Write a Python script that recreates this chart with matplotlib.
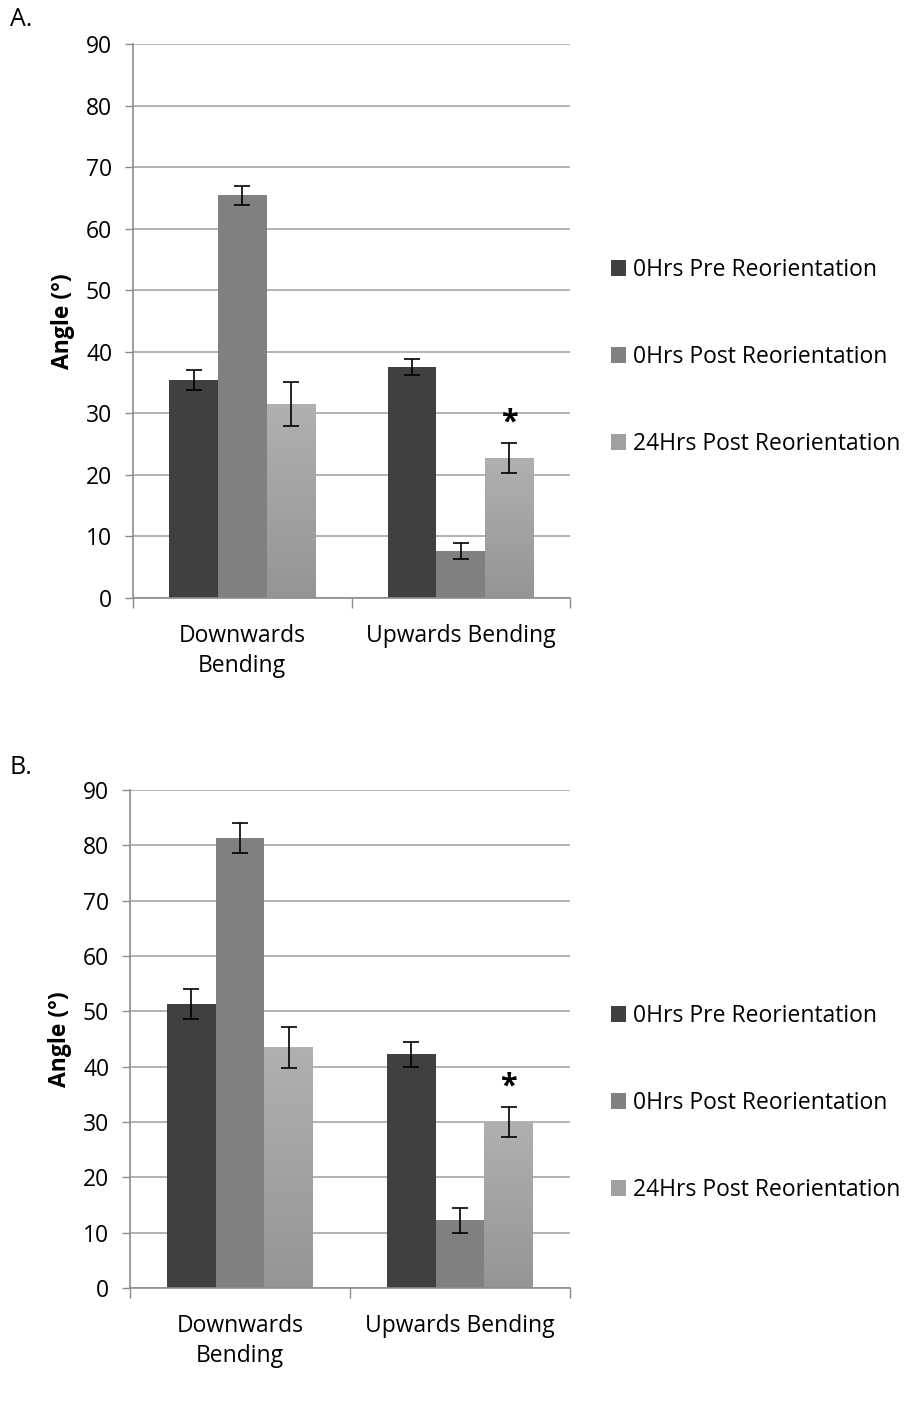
import matplotlib
matplotlib.use("Agg")
import matplotlib.pyplot as plt
import numpy as np
from matplotlib.patches import Rectangle

plt.rcParams['font.family'] = ['Open Sans', 'DejaVu Sans']

categories = ["Downwards\nBending", "Upwards Bending"]
series = ["0Hrs Pre Reorientation", "0Hrs Post Reorientation", "24Hrs Post Reorientation"]

# Panel A
a_pre = [35.4, 37.6]
a_post = [65.4, 7.6]
a_24 = [31.5, 22.7]
a_pre_err = [1.6, 1.3]
a_post_err = [1.6, 1.3]
a_24_err = [3.6, 2.4]

# Panel B
b_pre = [51.3, 42.2]
b_post = [81.3, 12.2]
b_24 = [43.5, 30.0]
b_pre_err = [2.65, 2.3]
b_post_err = [2.65, 2.3]
b_24_err = [3.7, 2.7]

yticks = list(range(0, 100, 10))

W, H = 908, 1423
fig = plt.figure(figsize=(W / 100, H / 100), dpi=100)

colors = ["#404040", "#808080", "#a6a6a6"]
grid_c = "#a6a6a6"
axis_c = "#8c8c8c"
FS = 16.5


def panel(rect, vals, errs, label, label_y, legend_y):
    ax = fig.add_axes(rect)
    bw = 0.222
    x = np.arange(len(categories))
    handles = []
    for i, (v, e) in enumerate(zip(vals, errs)):
        xs = x + (i - 1) * bw
        bars = ax.bar(xs, v, width=bw, color=colors[i], zorder=2, linewidth=0)
        if i == 2:
            grad = np.linspace(0, 1, 100).reshape(-1, 1)
            cmap = matplotlib.colors.LinearSegmentedColormap.from_list("g", ["#959595", "#b0b0b0"])
            for b in bars:
                bx, by = b.get_x(), b.get_y()
                im = ax.imshow(grad, extent=(bx, bx + b.get_width(), by, by + b.get_height()),
                               origin="lower", aspect="auto", cmap=cmap, zorder=2.5)
                im.set_clip_path(b)
        ax.errorbar(xs, v, yerr=e, fmt="none", ecolor="black", elinewidth=1.2,
                    capsize=6, capthick=1.2, zorder=3)
        handles.append(Rectangle((0, 0), 1, 1, facecolor=colors[i] if i < 2 else "#a0a0a0"))
    # star on 24h upwards
    xs24 = x[1] + bw
    ax.text(xs24, vals[2][1] + errs[2][1] + 1.0, "*", ha="center", va="bottom",
            fontsize=22, fontweight="bold", zorder=4)
    ax.set_xlim(-0.5, 1.5)
    ax.set_ylim(0, 90)
    ax.set_yticks(yticks)
    ax.set_yticklabels([str(t) for t in yticks], fontsize=FS)
    ax.set_xticks([-0.5, 0.5, 1.5])
    ax.set_xticklabels([])
    ax.set_xticks(x, minor=True)
    ax.set_xticklabels(categories, minor=True, fontsize=FS, linespacing=1.3)
    ax.tick_params(axis="x", which="minor", length=0, pad=19)
    ax.tick_params(axis="x", which="major", length=7, color=axis_c, width=1, direction="out")
    ax.tick_params(axis="y", length=6, color=axis_c, width=1, direction="out", pad=9)
    ax.yaxis.grid(True, color=grid_c, linewidth=1.2, zorder=0)
    ax.set_axisbelow(True)
    for s in ["top", "right"]:
        ax.spines[s].set_visible(False)
    for s in ["left", "bottom"]:
        ax.spines[s].set_color(axis_c)
        ax.spines[s].set_linewidth(1.2)
    ax.set_ylabel("Angle (°)", fontsize=FS, fontweight="bold", labelpad=8)
    fig.text(10 / W, 1 - label_y / H, label, fontsize=18, ha="left", va="center")
    ax.legend(handles, series, loc="center left", bbox_to_anchor=(611 / W, 1 - legend_y / H),
              bbox_transform=fig.transFigure, frameon=False, fontsize=FS,
              handlelength=0.65, handleheight=0.65, handletextpad=0.3,
              labelspacing=2.75, borderpad=0, borderaxespad=0)
    return ax


panel([133 / W, 1 - 598 / H, 437 / W, 554 / H], [a_pre, a_post, a_24],
      [a_pre_err, a_post_err, a_24_err], "A.", 20, 357)
panel([130 / W, 1 - 1288 / H, 440 / W, 498 / H], [b_pre, b_post, b_24],
      [b_pre_err, b_post_err, b_24_err], "B.", 767, 1103)

fig.savefig("out.png", dpi=100, facecolor="white")
